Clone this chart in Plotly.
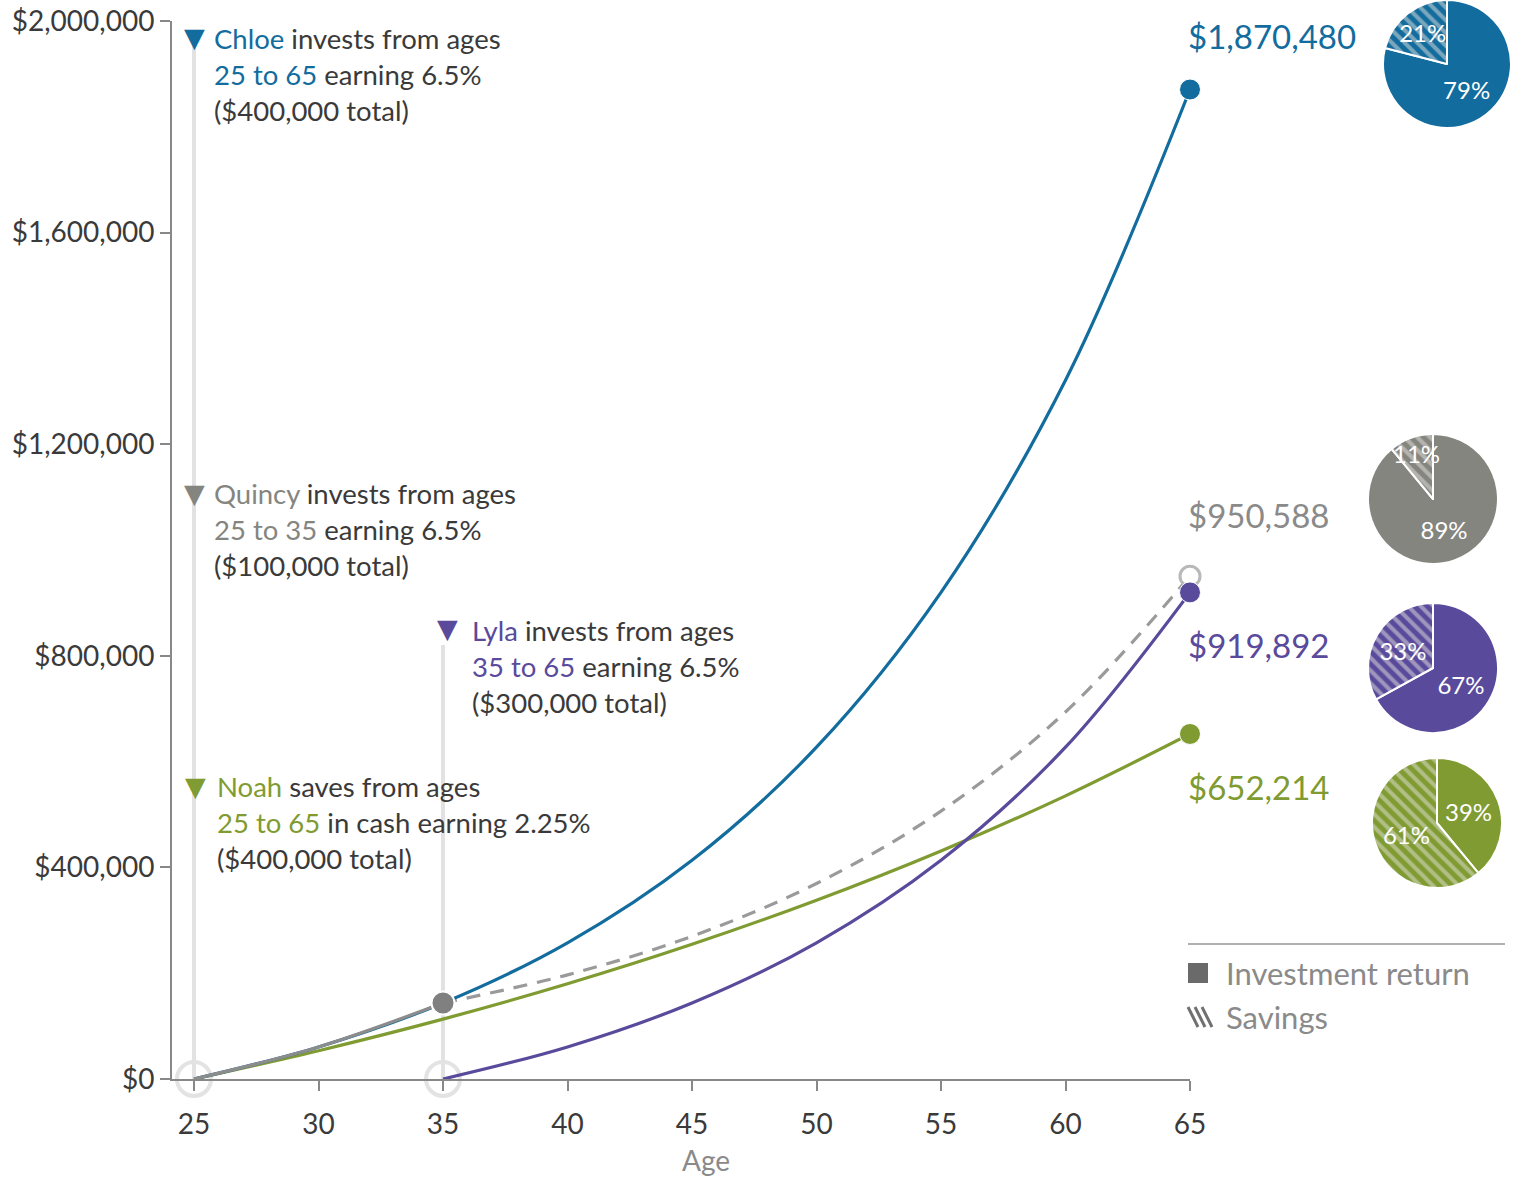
import plotly.graph_objects as go

# ---------------- data ----------------
ages = [25, 30, 35, 40, 45, 50, 55, 60, 65]
chloe = [0, 60600, 143700, 257500, 413500, 627200, 919900, 1321000, 1870480]
noah = [0, 53500, 113200, 180000, 254600, 338000, 431200, 535300, 652214]

quincy_early_ages = [25, 30, 35]
quincy_early = [0, 60600, 143700]
quincy_late_ages = [35, 40, 45, 50, 55, 60, 65]
quincy_late = [143700, 196900, 269800, 369600, 506400, 693800, 950588]

lyla_ages = [35, 40, 45, 50, 55, 60, 65]
lyla = [0, 60600, 143700, 257500, 413500, 627200, 919892]

start_ages = [25, 35]
start_vals = [0, 0]

y_ticks = [0, 400000, 800000, 1200000, 1600000, 2000000]
y_tick_labels = ["$0", "$400,000", "$800,000", "$1,200,000", "$1,600,000", "$2,000,000"]
x_ticks = [25, 30, 35, 40, 45, 50, 55, 60, 65]

pie_labels = ["Investment return", "Savings"]
pie_chloe = [79, 21]
pie_quincy = [89, 11]
pie_lyla = [67, 33]
pie_noah = [39, 61]

final_labels = ["$1,870,480", "$950,588", "$919,892", "$652,214"]

# ---------------- style ----------------
W, H = 1519, 1182
BLUE = "#136c9e"
GRAY = "#85857f"
PURPLE = "#5a4a9c"
GREEN = "#7f9b31"
TXT = "#3a3a3a"
FONT = "Lato"


def px(x):
    return x / W


def py(y):
    return 1 - y / H


fig = go.Figure()

# start rings
fig.add_trace(go.Scatter(x=start_ages, y=start_vals, mode="markers",
                         marker=dict(size=34, color="rgba(255,255,255,0)",
                                     line=dict(color="#e3e3e3", width=4)),
                         cliponaxis=False, showlegend=False, hoverinfo="skip"))

# lines
fig.add_trace(go.Scatter(x=ages, y=noah, mode="lines", line=dict(color=GREEN, width=3.2, shape="spline"),
                         cliponaxis=False, showlegend=False))
fig.add_trace(go.Scatter(x=lyla_ages, y=lyla, mode="lines", line=dict(color=PURPLE, width=3.2, shape="spline"),
                         cliponaxis=False, showlegend=False))
fig.add_trace(go.Scatter(x=quincy_late_ages, y=quincy_late, mode="lines",
                         line=dict(color="#9a9a9a", width=3.2, shape="spline", dash="14px,10px"),
                         cliponaxis=False, showlegend=False))
fig.add_trace(go.Scatter(x=ages, y=chloe, mode="lines", line=dict(color=BLUE, width=3.2, shape="spline"),
                         cliponaxis=False, showlegend=False))
fig.add_trace(go.Scatter(x=quincy_early_ages, y=quincy_early, mode="lines",
                         line=dict(color="#8c8c8c", width=3.2, shape="spline"),
                         cliponaxis=False, showlegend=False))

# markers
fig.add_trace(go.Scatter(x=[quincy_early_ages[-1]], y=[quincy_early[-1]], mode="markers",
                         marker=dict(size=23, color="#808080", line=dict(color="white", width=2)),
                         cliponaxis=False, showlegend=False))
fig.add_trace(go.Scatter(x=[quincy_late_ages[-1]], y=[quincy_late[-1]], mode="markers",
                         marker=dict(size=20, color="white", line=dict(color="#b8b8b8", width=3)),
                         cliponaxis=False, showlegend=False))
fig.add_trace(go.Scatter(x=[ages[-1]], y=[chloe[-1]], mode="markers",
                         marker=dict(size=21, color=BLUE, line=dict(color="white", width=1)),
                         cliponaxis=False, showlegend=False))
fig.add_trace(go.Scatter(x=[lyla_ages[-1]], y=[lyla[-1]], mode="markers",
                         marker=dict(size=21, color=PURPLE, line=dict(color="white", width=1)),
                         cliponaxis=False, showlegend=False))
fig.add_trace(go.Scatter(x=[ages[-1]], y=[noah[-1]], mode="markers",
                         marker=dict(size=21, color=GREEN, line=dict(color="white", width=1)),
                         cliponaxis=False, showlegend=False))

# pies
def add_pie(vals, color, cx, cy, r=65):
    fig.add_trace(go.Pie(
        labels=pie_labels, values=vals, sort=False, direction="clockwise", rotation=0,
        domain=dict(x=[px(cx - r), px(cx + r)], y=[max(0, py(cy + r)), min(1, py(cy - r))]),
        marker=dict(colors=[color, color], line=dict(color="white", width=2),
                    pattern=dict(shape=["", "\\"], fgcolor="#e4e2dc", bgcolor=color,
                                 size=9, solidity=0.45, fillmode="overlay")),
        texttemplate="%{value}%", textposition="inside", insidetextorientation="horizontal",
        textfont=dict(color="white", size=24, family=FONT),
        showlegend=False, hoverinfo="label+percent"))


add_pie(pie_chloe, BLUE, 1447, 63)
add_pie(pie_quincy, GRAY, 1433, 499)
add_pie(pie_lyla, PURPLE, 1433, 668)
add_pie(pie_noah, GREEN, 1437, 823)

# ---------------- shapes ----------------
shapes = [
    dict(type="line", xref="x", yref="paper", x0=25, x1=25, y0=py(1079), y1=py(45),
         line=dict(color="#e2e2e2", width=4), layer="below"),
    dict(type="line", xref="x", yref="paper", x0=35, x1=35, y0=py(1079), y1=py(645),
         line=dict(color="#e2e2e2", width=4), layer="below"),
    # legend rule
    dict(type="line", xref="paper", yref="paper", x0=px(1188), x1=px(1505), y0=py(944), y1=py(944),
         line=dict(color="#b0b0b0", width=2)),
    # legend solid square
    dict(type="rect", xref="paper", yref="paper", x0=px(1188), x1=px(1208), y0=py(983), y1=py(963),
         fillcolor="#6a6a6a", line=dict(width=0)),
]
# legend hatch icon
for off in [0, 7, 14]:
    shapes.append(dict(type="line", xref="paper", yref="paper",
                       x0=px(1188 + off), x1=px(1198 + off), y0=py(1007), y1=py(1027),
                       line=dict(color="#707070", width=3)))

# ---------------- annotations ----------------
ann = []


def tri(x, y, color):
    ann.append(dict(x=px(x), y=py(y), xref="paper", yref="paper", text="▼", showarrow=False,
                    font=dict(size=27, color=color, family="DejaVu Sans"),
                    xanchor="center", yanchor="middle"))


def block(x, y, text):
    ann.append(dict(x=px(x), y=py(y), xref="paper", yref="paper", text=text, showarrow=False,
                    align="left", xanchor="left", yanchor="middle",
                    font=dict(size=27.5, color=TXT, family=FONT)))


def col(t, c):
    return f"<span style='color:{c}'>{t}</span>"


tri(194, 38, BLUE)
block(212, 74, f"{col('Chloe', BLUE)} invests from ages<br>{col('25 to 65', BLUE)} earning 6.5%<br>($400,000 total)")
tri(194, 493, GRAY)
block(212, 529, f"{col('Quincy', GRAY)} invests from ages<br>{col('25 to 35', GRAY)} earning 6.5%<br>($100,000 total)")
tri(447, 629, PURPLE)
block(470, 666, f"{col('Lyla', PURPLE)} invests from ages<br>{col('35 to 65', PURPLE)} earning 6.5%<br>($300,000 total)")
tri(195, 786, GREEN)
block(215, 822, f"{col('Noah', GREEN)} saves from ages<br>{col('25 to 65', GREEN)} in cash earning 2.25%<br>($400,000 total)")

for label, c, y in zip(final_labels, [BLUE, "#8a8a8a", PURPLE, GREEN], [36, 515, 645, 787]):
    ann.append(dict(x=px(1186), y=py(y), xref="paper", yref="paper", text=label, showarrow=False,
                    xanchor="left", yanchor="middle", font=dict(size=33, color=c, family=FONT)))

ann.append(dict(x=px(1224), y=py(973), xref="paper", yref="paper", text="Investment return",
                showarrow=False, xanchor="left", yanchor="middle",
                font=dict(size=31, color="#8a8a8a", family=FONT)))
ann.append(dict(x=px(1224), y=py(1017), xref="paper", yref="paper", text="Savings",
                showarrow=False, xanchor="left", yanchor="middle",
                font=dict(size=31, color="#8a8a8a", family=FONT)))
ann.append(dict(x=px(706), y=py(1160), xref="paper", yref="paper", text="Age",
                showarrow=False, xanchor="center", yanchor="middle",
                font=dict(size=28, color="#8a8a8a", family=FONT)))

# ---------------- layout ----------------
fig.update_layout(
    width=W, height=H, autosize=False,
    margin=dict(l=0, r=0, t=0, b=0, pad=0),
    paper_bgcolor="white", plot_bgcolor="white",
    font=dict(family=FONT, color=TXT),
    showlegend=False,
    shapes=shapes, annotations=ann,
    uniformtext=dict(minsize=22, mode="show"),
    xaxis=dict(range=[24.116, 65], domain=[px(172), px(1190)], tickvals=x_ticks,
               ticks="outside", ticklen=10, tickwidth=2, tickcolor="#888", automargin=False,
               ticklabelstandoff=9,
               showline=True, linecolor="#888", linewidth=2,
               showgrid=False, zeroline=False, tickfont=dict(size=28, color=TXT, family=FONT)),
    yaxis=dict(range=[0, 2000000], domain=[py(1079), py(21)], tickvals=y_ticks, ticktext=y_tick_labels,
               ticks="outside", ticklen=10, tickwidth=2, tickcolor="#888", automargin=False,
               showline=True, linecolor="#888", linewidth=2,
               showgrid=False, zeroline=False, tickfont=dict(size=28, color=TXT, family=FONT)),
)

fig.write_html("out.html", config={"displayModeBar": False},
               post_script="document.body.style.margin='0';document.body.style.overflow='hidden';")
